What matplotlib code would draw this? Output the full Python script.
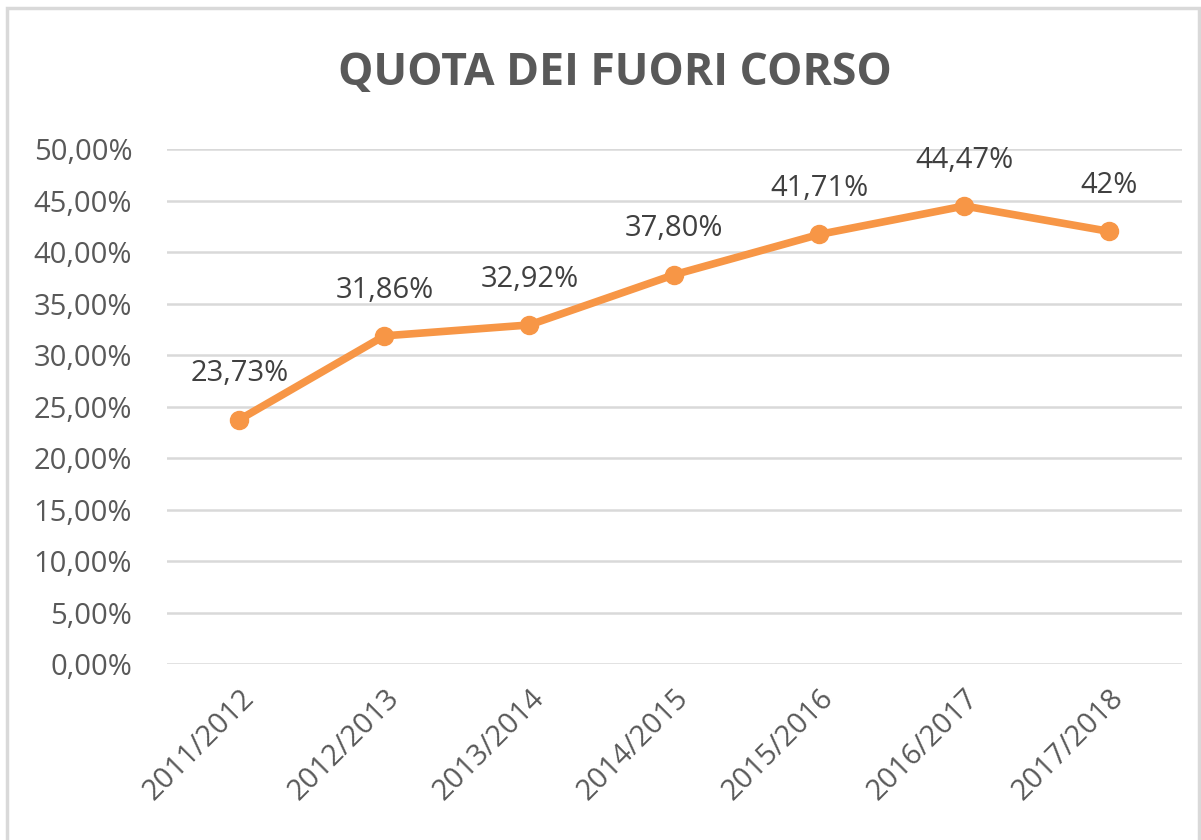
import matplotlib.pyplot as plt
from matplotlib.patches import Rectangle

plt.rcParams['font.family'] = ['Open Sans', 'DejaVu Sans']

years = ["2011/2012", "2012/2013", "2013/2014", "2014/2015",
         "2015/2016", "2016/2017", "2017/2018"]
quota = [23.73, 31.86, 32.92, 37.80, 41.71, 44.47, 42.0]
labels = ["23,73%", "31,86%", "32,92%", "37,80%", "41,71%", "44,47%", "42%"]
yticks = [0, 5, 10, 15, 20, 25, 30, 35, 40, 45, 50]

text_color = "#595959"
grid_color = "#D9D9D9"
orange = "#F79646"

fig = plt.figure(figsize=(12.01, 8.4), dpi=100)
fig.patches.append(Rectangle((0.006, -0.01), 0.992, 1.0, transform=fig.transFigure,
                             fill=False, edgecolor=grid_color, linewidth=2.5))

ax = fig.add_axes([0.139, 0.2095, 0.845, 0.6131])
x = list(range(len(years)))
ax.plot(x, quota, color=orange, linewidth=5.5, marker="o", markersize=13,
        solid_capstyle="round", zorder=3)

for xi, yi, lab in zip(x, quota, labels):
    ax.annotate(lab, (xi, yi), xytext=(0, 33), textcoords="offset points",
                ha="center", va="center", fontsize=21, color="#404040")

ax.set_xlim(-0.5, len(years) - 0.5)
ax.set_ylim(0, 50)
ax.set_yticks(yticks)
ax.set_yticklabels([f"{v:.2f}".replace(".", ",") + "%" for v in yticks])
ax.set_xticks(x)
ax.set_xticklabels(years, rotation=45, ha="right", rotation_mode="anchor")
ax.tick_params(axis="both", length=0, labelsize=21, labelcolor=text_color)
ax.tick_params(axis="y", pad=25)
ax.tick_params(axis="x", pad=14)
ax.grid(axis="y", color=grid_color, linewidth=1.8)
ax.set_axisbelow(True)
for s in ax.spines.values():
    s.set_visible(False)

fig.text(0.512, 0.913, "QUOTA DEI FUORI CORSO", ha="center", va="center",
         fontsize=32, fontweight="bold", color=text_color)

fig.savefig("out.png", dpi=100)
